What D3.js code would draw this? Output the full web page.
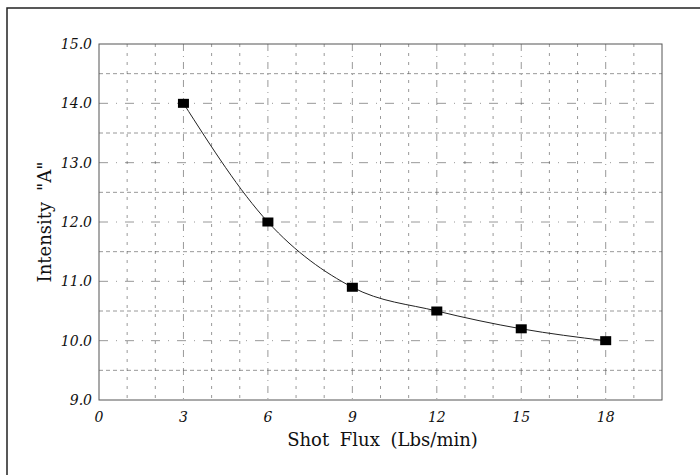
<!DOCTYPE html>
<meta charset="utf-8">
<style>
body { margin: 0; background: #fff; }
.grid line { stroke: #555; stroke-width: 1px; }
.tick-label { font-family: "DejaVu Serif", serif; font-style: italic; font-size: 14px; fill: #111; }
.axis-title { font-family: "DejaVu Serif", serif; font-size: 18px; fill: #111; }
</style>
<body>
<script src="https://d3js.org/d3.v7.min.js"></script>
<script>

var flux = [3, 6, 9, 12, 15, 18],
    intensity = [14.0, 12.0, 10.9, 10.5, 10.2, 10.0];

var xTicks = [0, 3, 6, 9, 12, 15, 18],
    yTicks = [9.0, 10.0, 11.0, 12.0, 13.0, 14.0, 15.0];

var width = 700,
    height = 475,
    margin = {left: 99, right: 38, top: 44, bottom: 75};

var svg = d3.select("body").append("svg")
    .attr("width", width)
    .attr("height", height);

var x = d3.scaleLinear().domain([0, 20]).range([margin.left, width - margin.right]);
var y = d3.scaleLinear().domain([9, 15]).range([height - margin.bottom, margin.top]);

// outer frame (only top and left edges visible in the scan)
svg.append("path")
    .attr("d", "M7," + (height) + "V8H" + width)
    .attr("fill", "none")
    .attr("stroke", "#222")
    .attr("stroke-width", 1.5);

var grid = svg.append("g").attr("class", "grid");

// vertical grid every unit
grid.selectAll(".vx")
    .data(d3.range(1, 20))
    .enter().append("line")
    .attr("x1", function(d) { return x(d); })
    .attr("x2", function(d) { return x(d); })
    .attr("y1", y(15))
    .attr("y2", y(9))
    .attr("stroke-dasharray", function(d) { return d % 3 == 0 ? "7,5,1,5" : "3,6"; })
    .attr("stroke-opacity", 0.6);

// horizontal grid every half unit
grid.selectAll(".hy")
    .data(d3.range(9.5, 15, 0.5))
    .enter().append("line")
    .attr("x1", x(0))
    .attr("x2", x(20))
    .attr("y1", function(d) { return y(d); })
    .attr("y2", function(d) { return y(d); })
    .attr("stroke-dasharray", function(d) { return d % 1 == 0 ? "9,8,1,8" : "4,3"; })
    .attr("stroke-opacity", 0.6);

// plot box
svg.append("rect")
    .attr("x", x(0))
    .attr("y", y(15))
    .attr("width", x(20) - x(0))
    .attr("height", y(9) - y(15))
    .attr("fill", "none")
    .attr("stroke", "#555")
    .attr("stroke-width", 1);

// tick labels
svg.selectAll(".ylab")
    .data(yTicks)
    .enter().append("text")
    .attr("class", "tick-label")
    .attr("x", x(0) - 7)
    .attr("y", function(d) { return y(d) + 5; })
    .attr("text-anchor", "end")
    .text(function(d) { return d.toFixed(1); });

svg.selectAll(".xlab")
    .data(xTicks)
    .enter().append("text")
    .attr("class", "tick-label")
    .attr("x", function(d) { return x(d); })
    .attr("y", y(9) + 22)
    .attr("text-anchor", "middle")
    .text(function(d) { return d; });

// axis titles
svg.append("text")
    .attr("class", "axis-title")
    .attr("transform", "translate(51," + ((y(9) + y(15)) / 2) + ") rotate(-90)")
    .attr("text-anchor", "middle")
    .style("word-spacing", "5px")
    .text("Intensity \"A\"");

svg.append("text")
    .attr("class", "axis-title")
    .attr("x", (x(0) + x(20)) / 2 + 2)
    .attr("y", y(9) + 46)
    .attr("text-anchor", "middle")
    .style("word-spacing", "5px")
    .text("Shot Flux (Lbs/min)");

// curve
var line = d3.line()
    .x(function(d, i) { return x(flux[i]); })
    .y(function(d) { return y(d); })
    .curve(d3.curveMonotoneX);

svg.append("path")
    .datum(intensity)
    .attr("d", line)
    .attr("fill", "none")
    .attr("stroke", "#222")
    .attr("stroke-width", 1);

svg.selectAll(".pt")
    .data(intensity)
    .enter().append("rect")
    .attr("x", function(d, i) { return x(flux[i]) - 5.5; })
    .attr("y", function(d) { return y(d) - 4.5; })
    .attr("width", 11)
    .attr("height", 9)
    .attr("fill", "#000");

</script>
